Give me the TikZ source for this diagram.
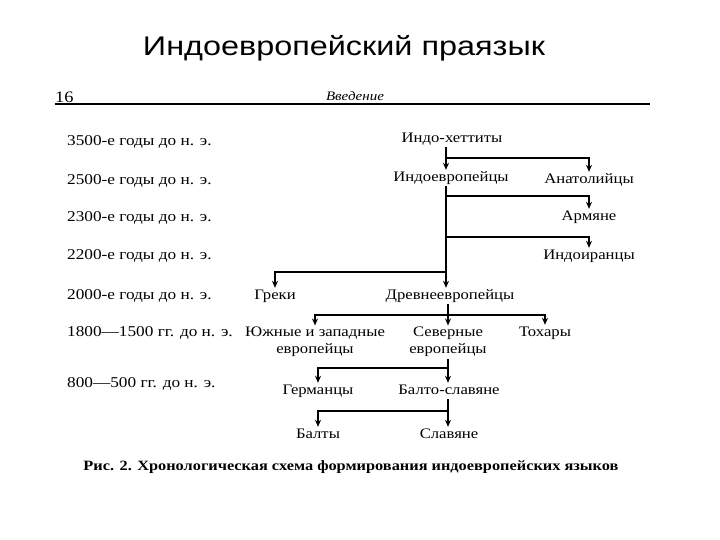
\documentclass[tikz,border=0pt]{standalone}
\usepackage{fontspec}
\setmainfont[FakeStretch=1.15]{Liberation Serif}
\newfontfamily\titlefont[FakeStretch=1.2]{Liberation Sans}
\usetikzlibrary{arrows.meta}
\begin{document}
\begin{tikzpicture}[x=1pt,y=-1pt,
  lbl/.style={anchor=west,inner sep=0pt,font=\fontsize{15}{16}\selectfont},
  nd/.style={inner sep=1.5pt,font=\fontsize{14.5}{17}\selectfont,align=center},
  sg/.style={nd,text height=10pt,text depth=3pt},
  ln/.style={line width=1.5pt},
  arr/.style={line width=1.5pt,-{Stealth[length=7pt,width=6pt]}}]
\useasboundingbox[fill=white] (0,0) rectangle (720,540);
% title
\node[font=\titlefont\fontsize{27}{30}\selectfont,inner sep=0pt] (title) at (344,48) {Индоевропейский праязык};
% header
\node[font=\fontsize{16}{17}\selectfont,inner sep=0pt,anchor=west] (pg) at (55,97) {16};
\node[font=\itshape\fontsize{13}{15}\selectfont,inner sep=0pt] (hd) at (355,96) {Введение};
\draw[line width=1.8pt] (55,104) -- (650,104);
% left labels
\node[lbl] (d1) at (67,142) {3500-е годы до н. э.};
\node[lbl] (d2) at (67,181) {2500-е годы до н. э.};
\node[lbl] (d3) at (67,218) {2300-е годы до н. э.};
\node[lbl] (d4) at (67,256) {2200-е годы до н. э.};
\node[lbl] (d5) at (67,296) {2000-е годы до н. э.};
\node[lbl] (d6) at (67,333) {1800—1500 гг. до н. э.};
\node[lbl] (d7) at (67,384) {800—500 гг. до н. э.};
% nodes
\node[sg] (ih) at (452,139) {Индо-хеттиты};
\node[sg] (ie) at (451,178) {Индоевропейцы};
\node[sg] (an) at (589,180) {Анатолийцы};
\node[sg] (ar) at (589,217) {Армяне};
\node[sg] (ii) at (589,256) {Индоиранцы};
\node[sg] (gr) at (275,296) {Греки};
\node[sg] (dr) at (450,296) {Древнеевропейцы};
\node[nd] (yz) at (315,342) {Южные и западные\\европейцы};
\node[nd] (sv) at (448,342) {Северные\\европейцы};
\node[sg] (tx) at (545,333) {Тохары};
\node[sg] (ge) at (318,391) {Германцы};
\node[sg] (bs) at (449,391) {Балто-славяне};
\node[sg] (ba) at (318,435) {Балты};
\node[sg] (sl) at (449,435) {Славяне};
% caption
\node[font=\bfseries\fontsize{14.2}{15}\selectfont,inner sep=0pt] (cap) at (351,467) {Рис. 2. Хронологическая схема формирования индоевропейских языков};
% connectors
\coordinate (t) at (446,0);
\coordinate (b1) at (446,158);
\coordinate (b2) at (446,196);
\coordinate (b3) at (446,237);
\coordinate (b4) at (446,272);
\draw[arr] (ih.south -| t) -- (ie.north -| t);
\draw[arr] (b1) -| (an.north);
\draw[arr] (ie.south -| t) -- (dr.north -| t);
\draw[arr] (b2) -| (ar.north);
\draw[arr] (b3) -| (ii.north);
\draw[arr] (b4) -| (gr.north);
\coordinate (j1) at (448,315);
\draw[ln] (dr.south -| j1) -- (j1);
\draw[arr] (j1) -| (yz.north);
\draw[arr] (j1) -| (tx.north);
\draw[arr] (j1) -- (sv.north -| j1);
\coordinate (j2) at (448,368);
\draw[ln] (sv.south -| j2) -- (j2);
\draw[arr] (j2) -| (ge.north);
\draw[arr] (j2) -- (bs.north -| j2);
\coordinate (j3) at (448,411);
\draw[ln] (bs.south -| j3) -- (j3);
\draw[arr] (j3) -| (ba.north);
\draw[arr] (j3) -- (sl.north -| j3);
\end{tikzpicture}
\end{document}
